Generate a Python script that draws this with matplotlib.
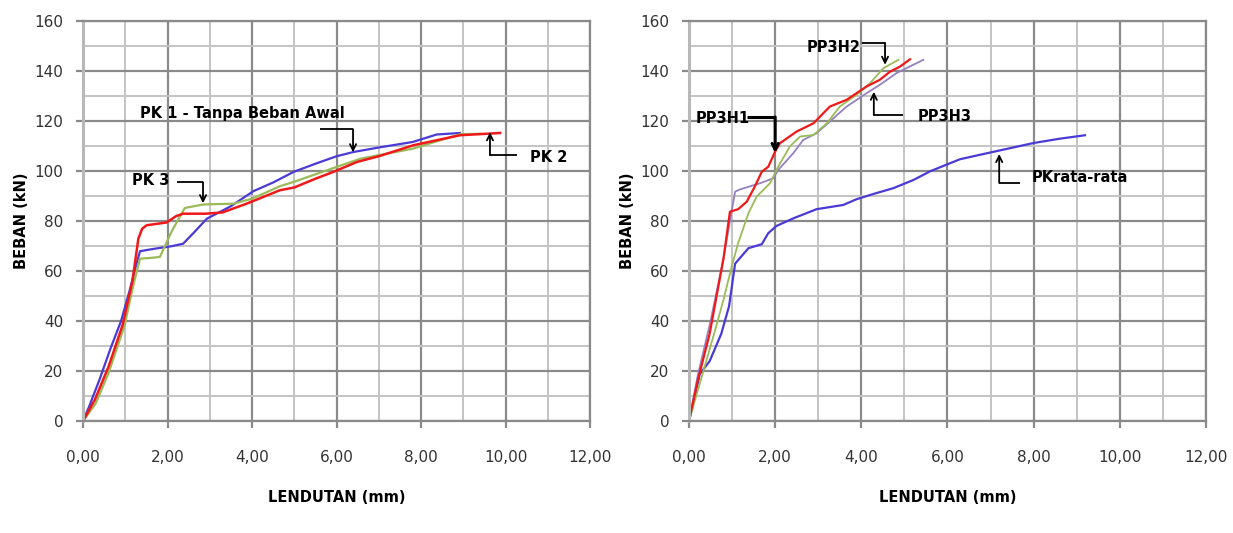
import numpy as np
import matplotlib
matplotlib.use("Agg")
import matplotlib.pyplot as plt
from matplotlib.ticker import MultipleLocator, FuncFormatter

plt.rcParams['font.family'] = ['DejaVu Sans']
plt.rcParams['xtick.major.pad'] = 16
plt.rcParams['ytick.major.pad'] = 9
plt.rcParams['xtick.major.size'] = 5
plt.rcParams['ytick.major.size'] = 5
plt.rcParams['xtick.minor.size'] = 0
plt.rcParams['ytick.minor.size'] = 0

# ---- left chart data: deflection (mm) vs load (kN)
pk1_x = [0, 0.15, 0.4, 0.65, 0.9, 1.1, 1.25, 1.35, 1.7, 2.1, 2.37, 2.6, 2.93, 3.5,
         4.03, 4.5, 4.98, 5.5, 6.0, 6.4, 7.0, 7.8, 8.37, 8.92]
pk1_y = [0, 6, 17, 29, 40, 52, 62, 68, 69, 70, 71, 75, 81, 86,
         92, 95.5, 99.7, 103, 106, 107.7, 109.5, 111.7, 114.7, 115.3]
pk2_x = [0, 0.28, 0.61, 0.94, 1.17, 1.31, 1.4, 1.51, 1.69, 1.98, 2.2, 2.37, 2.9, 3.3,
         3.87, 4.66, 5.0, 5.5, 5.92, 6.48, 7.0, 7.82, 8.92, 9.87]
pk2_y = [0, 8.5, 22, 38.6, 56, 73, 77, 78.4, 78.8, 79.5, 82, 83, 83, 83.5,
         87, 92.4, 93.5, 97, 99.7, 103.7, 106, 110.4, 114.4, 115.3]
pk3_x = [0, 0.3, 0.6, 0.98, 1.2, 1.35, 1.6, 1.82, 2.1, 2.41, 2.85, 3.56, 4.0, 4.66,
         4.98, 6.0, 6.56, 7.8, 8.92, 9.4]
pk3_y = [0, 7, 19, 38, 55, 65, 65.3, 65.7, 76, 85.3, 86.7, 87, 89, 94,
         95.7, 101.7, 105, 109, 114.8, 115]

# ---- right chart data
pkr_x = [0, 0.25, 0.48, 0.75, 0.93, 1.07, 1.18, 1.38, 1.69, 1.84, 2.03, 2.43, 2.96,
         3.58, 3.89, 4.3, 4.74, 5.21, 5.6, 6.29, 7.1, 8.0, 8.6, 9.19]
pkr_y = [0, 18.8, 24, 35, 46, 63, 65.2, 69.2, 70.8, 75.2, 78.1, 81.2, 84.8,
         86.5, 88.8, 91, 93.2, 96.5, 100, 104.8, 107.9, 111.3, 113, 114.4]
h1_x = [0, 0.2, 0.48, 0.8, 0.95, 1.14, 1.34, 1.52, 1.69, 1.84, 2.0, 2.11, 2.5, 2.89,
        3.27, 3.43, 3.66, 4.12, 4.43, 4.67, 4.9, 5.13]
h1_y = [0, 16, 35, 65, 83.8, 84.8, 87.8, 93.6, 99.8, 101.8, 107.9, 111.2, 115.9, 119.2,
        125.9, 127, 128.6, 133.9, 136.6, 139.9, 141.9, 144.8]
h2_x = [0, 0.3, 0.6, 0.8, 0.99, 1.14, 1.38, 1.57, 1.88, 2.07, 2.34, 2.58, 2.89, 3.2,
        3.5, 3.89, 4.2, 4.51, 4.86]
h2_y = [0, 18, 36, 48.5, 61.8, 71.2, 83.2, 89.8, 95.2, 101.8, 109.9, 113.9, 114.5, 119.2,
        125.9, 130.6, 135.2, 141.2, 144.6]
h3_x = [0, 0.2, 0.5, 0.8, 1.0, 1.07, 1.18, 1.65, 1.96, 2.07, 2.42, 2.65, 2.96, 3.27,
        3.66, 4.12, 4.43, 4.82, 5.44]
h3_y = [0, 18, 40, 65, 85, 91.8, 92.7, 95.2, 97.2, 100.5, 107.2, 112.5, 115.2, 119.9,
        125.9, 131.2, 134.6, 139.3, 144.6]

RED = '#f01818'
BLUE = '#4a3ad6'
GREEN = '#9bbb59'
PURPLE = '#9580c0'


def style_axis(ax):
    ax.set_xlim(0, 12)
    ax.set_ylim(0, 160)
    ax.xaxis.set_major_locator(MultipleLocator(2))
    ax.xaxis.set_minor_locator(MultipleLocator(1))
    ax.yaxis.set_major_locator(MultipleLocator(20))
    ax.yaxis.set_minor_locator(MultipleLocator(10))
    ax.xaxis.set_major_formatter(FuncFormatter(lambda v, p: f"{v:.2f}".replace('.', ',')))
    ax.grid(which='major', color='#8a8a8a', lw=1.6)
    ax.grid(which='minor', color='#c4c4c4', lw=1.4)
    ax.set_axisbelow(True)
    for s in ax.spines.values():
        s.set_color('#8a8a8a')
        s.set_linewidth(1.6)
    ax.spines['left'].set_color('#b8b8b8')
    ax.spines['left'].set_linewidth(2.2)
    ax.tick_params(which='major', color='#8a8a8a', width=1.6,
                   labelsize=11, labelcolor='#333333')
    ax.set_xlabel('LENDUTAN (mm)', fontsize=10.5, fontweight='bold', labelpad=18)
    ax.set_ylabel('BEBAN (kN)', fontsize=10.5, fontweight='bold', labelpad=4)


def elbow(ax, label, tpos, pts, ha='left', lw=1.3):
    ax.text(tpos[0], tpos[1], label, ha=ha, va='center', fontsize=10.5, fontweight='bold')
    xs = [p[0] for p in pts]
    ys = [p[1] for p in pts]
    ax.plot(xs[:-1], ys[:-1], color='black', lw=lw, solid_capstyle='butt')
    ax.annotate('', xy=pts[-1], xytext=pts[-2],
                arrowprops=dict(arrowstyle='->', color='black', lw=lw,
                                shrinkA=0, shrinkB=0, mutation_scale=11))


fig = plt.figure(figsize=(12.33, 5.33), dpi=100)
ax1 = fig.add_axes([0.0673, 0.21, 0.4113, 0.75])
ax2 = fig.add_axes([0.5588, 0.21, 0.4193, 0.75])

style_axis(ax1)
ax1.plot(pk1_x, pk1_y, color=BLUE, lw=1.6)
ax1.plot(pk3_x, pk3_y, color=GREEN, lw=1.6)
ax1.plot(pk2_x, pk2_y, color=RED, lw=1.8)

elbow(ax1, 'PK 1 - Tanpa Beban Awal', (1.35, 123.2), [(5.61, 116.8), (6.39, 116.8), (6.39, 107.6)])
elbow(ax1, 'PK 3', (1.16, 96.4), [(2.22, 95.6), (2.84, 95.6), (2.84, 87.2)])
elbow(ax1, 'PK 2', (10.58, 105.6), [(10.27, 106.4), (9.63, 106.4), (9.63, 115.6)])

style_axis(ax2)
ax2.plot(pkr_x, pkr_y, color=BLUE, lw=1.6)
ax2.plot(h3_x, h3_y, color=PURPLE, lw=1.3)
ax2.plot(h2_x, h2_y, color=GREEN, lw=1.3)
ax2.plot(h1_x, h1_y, color=RED, lw=1.6)

elbow(ax2, 'PP3H2', (2.72, 149.4), [(4.02, 151.4), (4.55, 151.4), (4.55, 142.6)])
elbow(ax2, 'PP3H1', (0.15, 121.3), [(1.35, 121.7), (2.0, 121.7), (2.0, 107.3)], lw=2.2)
elbow(ax2, 'PP3H3', (5.3, 122.1), [(4.97, 122.5), (4.29, 122.5), (4.29, 131.8)])
elbow(ax2, 'PKrata-rata', (7.96, 97.3), [(7.68, 95.3), (7.2, 95.3), (7.2, 106.9)])

fig.savefig('out.png', dpi=100)
